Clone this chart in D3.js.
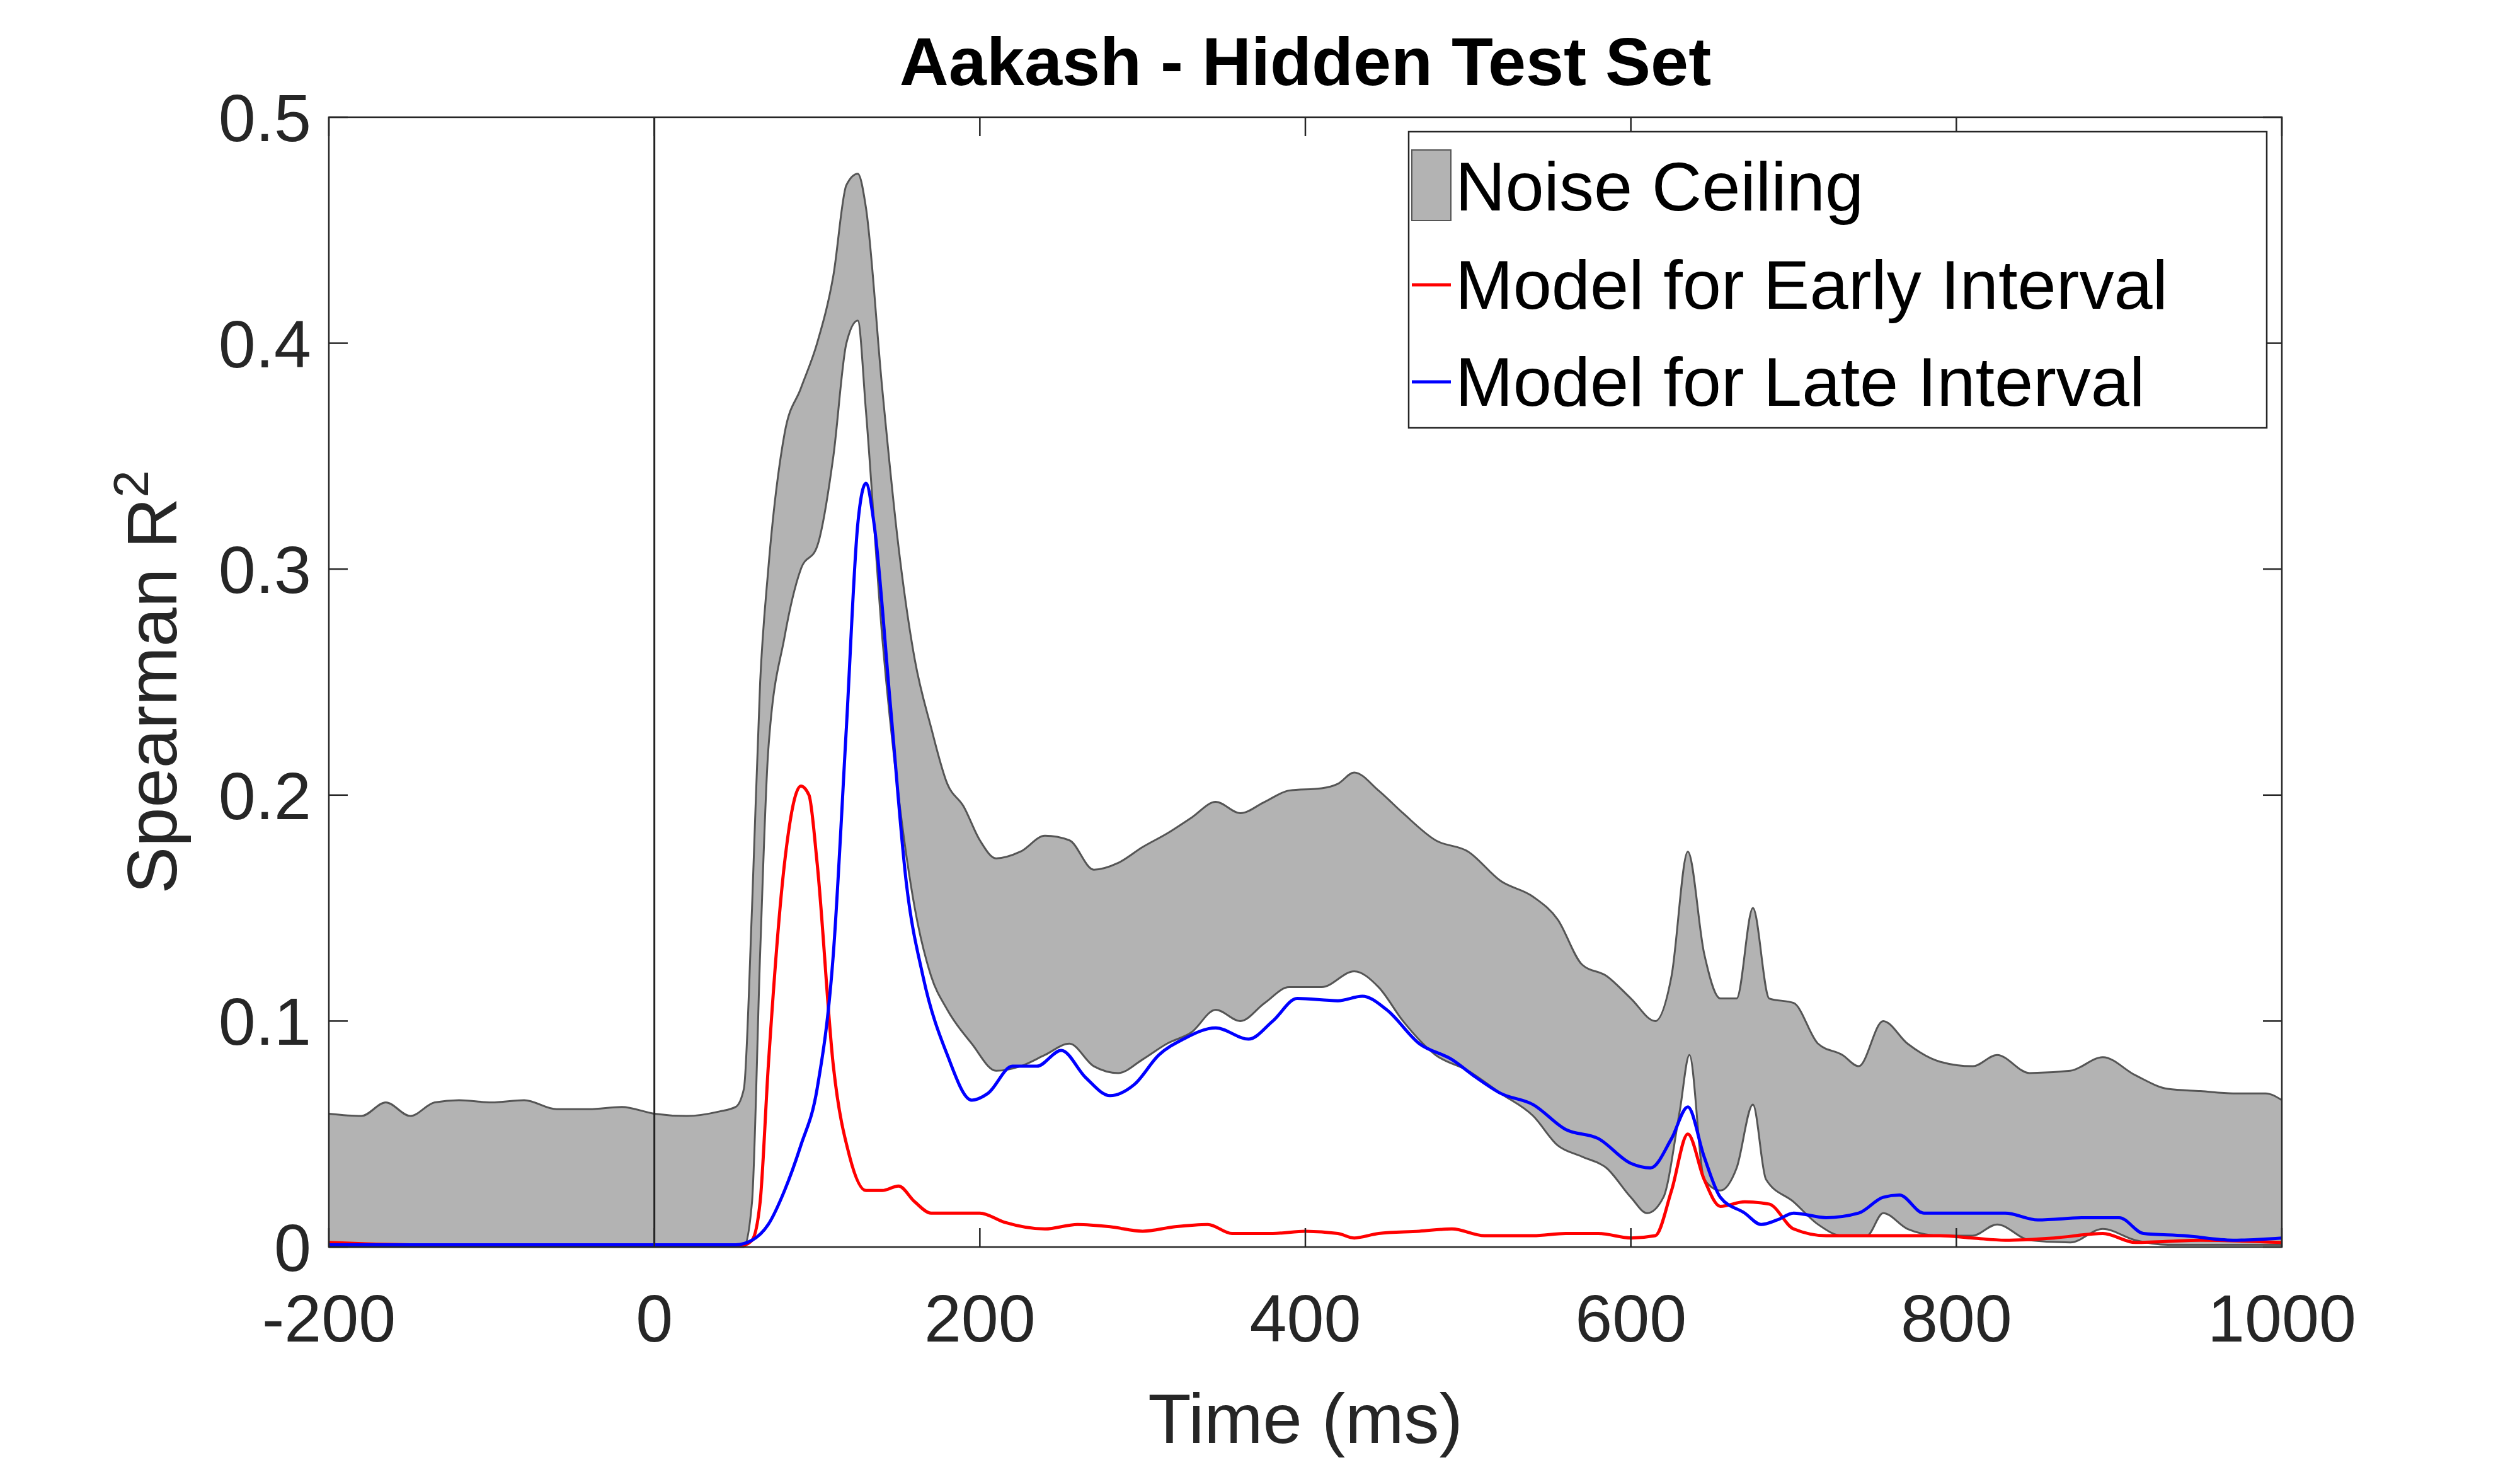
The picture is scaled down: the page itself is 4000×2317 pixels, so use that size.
<!DOCTYPE html>
<html><head><meta charset="utf-8">
<script src="https://cdn.jsdelivr.net/npm/d3@7"></script>
<style>body{margin:0;background:#fff}text{font-family:"Liberation Sans",Arial,sans-serif}</style>
</head><body><svg id="c" width="4000" height="2317"></svg>
<script>
const upT=[-200,-180,-165,-150,-135,-120,-100,-80,-60,-40,-20,0,20,40,50,55,60,65,70,80,90,100,110,118,125,130,140,150,160,170,180,190,200,210,225,240,255,270,285,300,315,330,345,360,375,390,410,420,430,445,460,480,500,520,540,555,570,585,600,615,625,635,645,655,665,675,685,700,715,730,740,755,770,790,810,825,845,870,890,910,930,950,970,990,1000];
const upV=[0.059,0.058,0.064,0.058,0.064,0.065,0.064,0.065,0.061,0.061,0.062,0.059,0.058,0.060,0.062,0.07,0.15,0.25,0.30,0.36,0.38,0.40,0.43,0.47,0.475,0.46,0.38,0.31,0.26,0.23,0.205,0.195,0.18,0.172,0.175,0.182,0.18,0.167,0.170,0.177,0.183,0.19,0.197,0.192,0.197,0.202,0.203,0.205,0.21,0.202,0.192,0.18,0.175,0.162,0.155,0.145,0.125,0.12,0.11,0.1,0.12,0.175,0.13,0.11,0.11,0.15,0.11,0.108,0.09,0.085,0.08,0.1,0.09,0.082,0.08,0.085,0.077,0.078,0.084,0.076,0.070,0.069,0.068,0.068,0.065];
const loT=[-200,55,60,65,70,80,90,100,110,118,125,130,140,150,160,170,180,195,210,225,240,255,270,285,300,315,330,345,360,375,390,410,430,445,460,480,500,520,540,555,570,585,600,610,620,630,636,645,655,665,675,683,700,715,730,745,755,770,790,810,825,845,870,890,910,930,1000];
const loV=[0.0,0.0,0.02,0.13,0.22,0.27,0.30,0.31,0.35,0.40,0.41,0.37,0.27,0.2,0.15,0.12,0.105,0.09,0.078,0.080,0.085,0.09,0.08,0.077,0.083,0.090,0.095,0.105,0.100,0.108,0.115,0.115,0.122,0.115,0.100,0.085,0.078,0.068,0.058,0.045,0.040,0.035,0.022,0.015,0.022,0.06,0.085,0.03,0.025,0.035,0.063,0.03,0.02,0.01,0.005,0.005,0.015,0.008,0.005,0.005,0.01,0.003,0.002,0.008,0.003,0.001,0.001];
const redT=[-200,-150,-100,-50,0,55,60,65,70,80,90,95,100,110,120,130,140,150,160,170,190,200,215,240,260,280,300,320,340,355,380,400,420,430,445,470,490,510,540,560,580,600,615,625,635,645,655,670,685,700,720,760,790,810,830,860,890,910,950,1000];
const redV=[0.002,0.001,0.001,0.001,0.001,0.001,0.003,0.02,0.08,0.17,0.204,0.2,0.17,0.08,0.04,0.025,0.025,0.027,0.02,0.015,0.015,0.015,0.011,0.008,0.01,0.009,0.007,0.009,0.01,0.006,0.006,0.007,0.006,0.004,0.006,0.007,0.008,0.005,0.005,0.006,0.006,0.004,0.005,0.025,0.05,0.03,0.018,0.02,0.019,0.008,0.005,0.005,0.005,0.004,0.003,0.004,0.006,0.002,0.003,0.002];
const blueT=[-200,-100,0,50,60,70,80,90,100,110,118,125,130,135,145,155,165,180,195,205,220,235,250,265,280,295,310,325,345,365,380,395,420,435,450,470,490,505,520,540,560,580,600,612,625,635,645,655,670,680,690,700,720,740,755,765,780,810,830,850,880,900,915,940,970,1000];
const blueV=[0.001,0.001,0.001,0.001,0.003,0.01,0.025,0.045,0.07,0.13,0.23,0.32,0.338,0.32,0.24,0.16,0.12,0.085,0.065,0.068,0.08,0.08,0.087,0.075,0.067,0.072,0.085,0.092,0.097,0.092,0.1,0.11,0.109,0.111,0.105,0.09,0.083,0.075,0.068,0.063,0.052,0.048,0.037,0.035,0.048,0.062,0.04,0.022,0.015,0.01,0.012,0.015,0.013,0.015,0.022,0.023,0.015,0.015,0.015,0.012,0.013,0.013,0.006,0.005,0.003,0.004];
const xTicks=[-200,0,200,400,600,800,1000];
const yTicks=[0,0.1,0.2,0.3,0.4,0.5];
const legendLabels=["Noise Ceiling","Model for Early Interval","Model for Late Interval"];

const svg=d3.select("#c");
const m={l:522,r:3622,t:186,b:1979};
const x=d3.scaleLinear().domain([-200,1000]).range([m.l,m.r]);
const y=d3.scaleLinear().domain([0,0.5]).range([m.b,m.t]);
const g=svg.append("g");
const zip=(T,V)=>T.map((t,i)=>[t,V[i]]);
const up=zip(upT,upV), lo=zip(loT,loV);
const crv=d3.curveMonotoneX;
const line=d3.line().x(d=>x(d[0])).y(d=>y(d[1])).curve(crv);
// band: upper forward + lower reversed
const upPath=line(up), loRev=line(lo.slice().reverse());
g.append("path").attr("d",upPath+"L"+loRev.slice(1)+"Z").attr("fill","#b3b3b3");
g.append("path").attr("d",upPath).attr("fill","none").attr("stroke","#555").attr("stroke-width",3);
g.append("path").attr("d",line(lo)).attr("fill","none").attr("stroke","#555").attr("stroke-width",3);
g.append("line").attr("x1",x(0)).attr("x2",x(0)).attr("y1",m.t).attr("y2",m.b).attr("stroke","#222").attr("stroke-width",3);
g.append("path").attr("d",line(zip(redT,redV))).attr("fill","none").attr("stroke","#f00").attr("stroke-width",5);
g.append("path").attr("d",line(zip(blueT,blueV))).attr("fill","none").attr("stroke","#00f").attr("stroke-width",5);

// axes (ticks inside, mirrored)
const tk=30, ax=svg.append("g").attr("font-size",106).attr("fill","#262626");
svg.append("rect").attr("x",m.l).attr("y",m.t).attr("width",m.r-m.l).attr("height",m.b-m.t).attr("fill","none").attr("stroke","#262626").attr("stroke-width",2.5);
xTicks.forEach(t=>{
  svg.append("line").attr("x1",x(t)).attr("x2",x(t)).attr("y1",m.b).attr("y2",m.b-tk).attr("stroke","#262626").attr("stroke-width",2.5);
  svg.append("line").attr("x1",x(t)).attr("x2",x(t)).attr("y1",m.t).attr("y2",m.t+tk).attr("stroke","#262626").attr("stroke-width",2.5);
  ax.append("text").attr("x",x(t)).attr("y",m.b+150).attr("text-anchor","middle").text(t);
});
yTicks.forEach(t=>{
  svg.append("line").attr("x1",m.l).attr("x2",m.l+tk).attr("y1",y(t)).attr("y2",y(t)).attr("stroke","#262626").attr("stroke-width",2.5);
  svg.append("line").attr("x1",m.r).attr("x2",m.r-tk).attr("y1",y(t)).attr("y2",y(t)).attr("stroke","#262626").attr("stroke-width",2.5);
  ax.append("text").attr("x",m.l-28).attr("y",y(t)+38).attr("text-anchor","end").text(t);
});
svg.append("text").attr("x",(m.l+m.r)/2).attr("y",2290).attr("text-anchor","middle").attr("font-size",112).attr("fill","#262626").text("Time (ms)");
const yl=svg.append("text").attr("transform",`translate(280,${(m.t+m.b)/2}) rotate(-90)`).attr("text-anchor","middle").attr("font-size",112).attr("fill","#262626");
yl.append("tspan").text("Spearman R");
yl.append("tspan").attr("dy",-45).attr("font-size",78).text("2");
svg.append("text").attr("x",(m.l+m.r)/2).attr("y",135).attr("text-anchor","middle").attr("font-size",108).attr("font-weight","bold").attr("fill","#000").text("Aakash - Hidden Test Set");

// legend
const lg=svg.append("g");
lg.append("rect").attr("x",2236).attr("y",209).attr("width",1362).attr("height",470).attr("fill","#fff").attr("stroke","#262626").attr("stroke-width",2.5);
const rows=[296,452,606];
lg.append("rect").attr("x",2241).attr("y",238).attr("width",62).attr("height",112).attr("fill","#b3b3b3").attr("stroke","#555").attr("stroke-width",2);
lg.append("line").attr("x1",2241).attr("x2",2303).attr("y1",rows[1]).attr("y2",rows[1]).attr("stroke","#f00").attr("stroke-width",5);
lg.append("line").attr("x1",2241).attr("x2",2303).attr("y1",rows[2]).attr("y2",rows[2]).attr("stroke","#00f").attr("stroke-width",5);
legendLabels.forEach((s,i)=>lg.append("text").attr("x",2310).attr("y",rows[i]+38).attr("font-size",110).attr("fill","#000").text(s));
</script></body></html>
